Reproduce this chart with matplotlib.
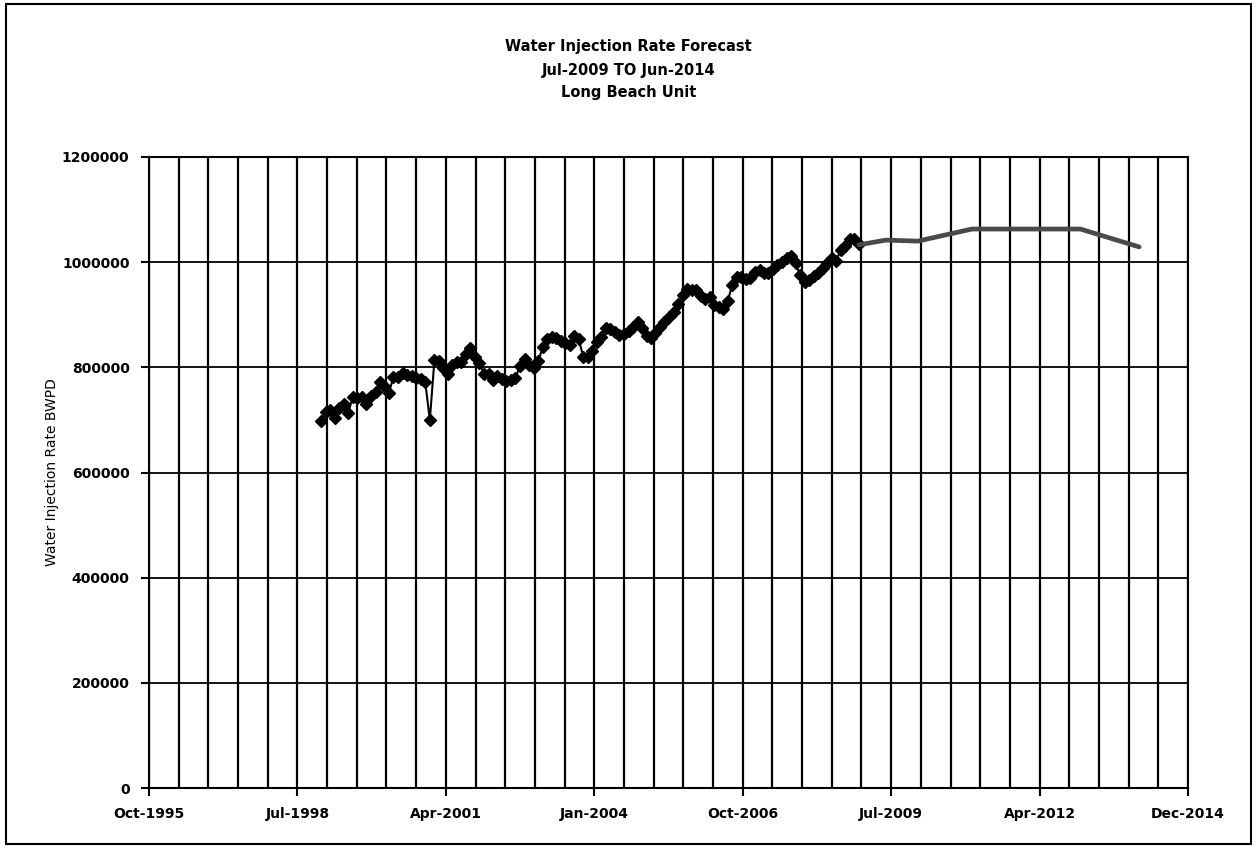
"""
Water injection rate history and forecast, Long Beach Unit.
"""

import numpy as np
import pandas as pd
import matplotlib
matplotlib.use("Agg")
import matplotlib.pyplot as plt
import matplotlib.dates as mdates
from matplotlib.ticker import FixedLocator, FuncFormatter
from matplotlib.patches import Rectangle

# monthly history, Jan-1999 .. Dec-2008 (thousand BWPD)
hist_start = "1999-01-01"
hist_kbwpd = [
    697, 716, 718, 704, 723, 730, 713, 744, 742, 744, 730, 745,
    754, 772, 764, 752, 782, 782, 790, 786, 783, 780, 777, 772,
    700, 814, 812, 798, 788, 804, 811, 811, 826, 837, 820, 809,
    787, 787, 775, 783, 778, 774, 775, 780, 803, 815, 804, 798,
    812, 838, 853, 858, 856, 851, 846, 843, 859, 853, 820, 819,
    832, 849, 858, 874, 872, 867, 861, 863, 870, 877, 886, 874,
    859, 855, 866, 876, 886, 895, 906, 921, 937, 949, 948, 947,
    935, 930, 934, 918, 914, 910, 927, 956, 972, 972, 968, 970,
    981, 985, 979, 980, 987, 995, 1000, 1007, 1011, 998, 975, 963,
    966, 974, 979, 988, 999, 1008, 1002, 1024, 1031, 1044, 1045, 1035,
]

# forecast
fc_dates = ["2008-12-01", "2009-06-01", "2010-01-01", "2011-01-01",
            "2013-01-01", "2014-02-01"]
fc_kbwpd = [1033, 1042, 1040, 1063, 1063, 1029]

title_lines = ["Water Injection Rate Forecast", "Jul-2009 TO Jun-2014", "Long Beach Unit"]

hist_x = mdates.date2num(pd.date_range(hist_start, periods=len(hist_kbwpd), freq="MS"))
hist_y = np.array(hist_kbwpd) * 1000
fc_x = mdates.date2num(pd.to_datetime(fc_dates))
fc_y = np.array(fc_kbwpd) * 1000

# Excel-style date axis: 28-Oct-1995 .. 27-Dec-2014, major 1000 days, minor 200
x_lo = mdates.date2num(pd.Timestamp("1995-10-28"))
x_hi = x_lo + 7000

fig = plt.figure(figsize=(12.57, 8.48), dpi=100)
ax = fig.add_axes([149 / 1257, 1 - 788 / 848, (1188 - 149) / 1257, (788 - 157) / 848])

ax.plot(hist_x, hist_y, color="black", lw=1.5, marker="D", markersize=6.5, zorder=3)
ax.plot(fc_x, fc_y, color="#4a4a4a", lw=3.4, solid_capstyle="round", zorder=3)

ax.set_xlim(x_lo, x_hi)
ax.set_ylim(0, 1200000)
ax.xaxis.set_major_locator(FixedLocator(np.arange(x_lo, x_hi + 1, 1000)))
ax.xaxis.set_minor_locator(FixedLocator(np.arange(x_lo, x_hi + 1, 200)))
ax.xaxis.set_major_formatter(mdates.DateFormatter("%b-%Y"))
ax.set_yticks(np.arange(0, 1200001, 200000))
ax.yaxis.set_major_formatter(FuncFormatter(lambda v, p: f"{int(v)}"))

ax.grid(True, which="both", axis="x", color="black", lw=1.6)
ax.grid(True, which="major", axis="y", color="black", lw=1.3)
ax.tick_params(which="minor", length=0)
ax.tick_params(which="major", length=6, width=1.5, direction="out", pad=8)
for lab in ax.get_xticklabels() + ax.get_yticklabels():
    lab.set_fontweight("heavy")
    lab.set_fontsize(10)
for s in ax.spines.values():
    s.set_color("black")
    s.set_linewidth(1.5)

ax.set_ylabel("Water Injection Rate BWPD", fontsize=10, labelpad=2)

for i, t in enumerate(title_lines):
    fig.text(0.5, 1 - (47 + 23 * i) / 848, t, ha="center", va="center",
             fontsize=10.5, fontweight="heavy")

fig.add_artist(Rectangle((0.005, 0.005), 0.99, 0.99, transform=fig.transFigure,
                         fill=False, edgecolor="black", lw=1.5))

fig.savefig("out.png", dpi=100)
